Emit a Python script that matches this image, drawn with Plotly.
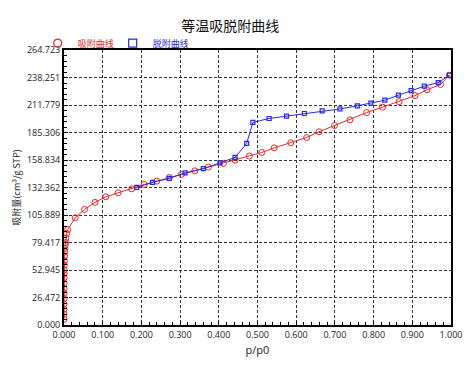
import plotly.graph_objects as go

title_text = "等温吸脱附曲线"
ads_name = "吸附曲线"
des_name = "脱附曲线"
x_title = "p/p0"
y_title = "吸附量(cm³/g STP)"

x_ticks = [0.0, 0.1, 0.2, 0.3, 0.4, 0.5, 0.6, 0.7, 0.8, 0.9, 1.0]
x_ticklabels = ["0.000", "0.100", "0.200", "0.300", "0.400", "0.500",
                "0.600", "0.700", "0.800", "0.900", "1.000"]
y_ticks = [0.0, 26.472, 52.945, 79.417, 105.889, 132.362, 158.834,
           185.306, 211.779, 238.251, 264.723]
y_ticklabels = ["0.000", "26.472", "52.945", "79.417", "105.889", "132.362",
                "158.834", "185.306", "211.779", "238.251", "264.723"]

ads_x = [0.00001, 0.00002, 0.00004, 0.00006, 0.0001, 0.00015, 0.0002, 0.0003,
         0.0004, 0.0005, 0.0007, 0.0009, 0.0012, 0.0015, 0.0019, 0.0024, 0.003,
         0.004, 0.005, 0.007, 0.0095, 0.029, 0.053, 0.080, 0.108, 0.140, 0.175,
         0.207, 0.240, 0.272, 0.304, 0.338, 0.373, 0.412, 0.442, 0.479, 0.511,
         0.543, 0.586, 0.627, 0.659, 0.699, 0.739, 0.782, 0.823, 0.866, 0.907,
         0.938, 0.973, 0.996]
ads_y = [5.5, 10.6, 15.1, 20.2, 25.3, 30.5, 34.9, 40.1, 45.5, 49.7, 52.9,
         57.7, 61.9, 66.4, 70.5, 73.8, 77.0, 79.5, 83.4, 88.2, 91.8, 103.2,
         111.3, 118.0, 123.4, 127.3, 131.1, 135.3, 138.5, 142.0, 145.0, 148.4,
         152.0, 155.5, 158.7, 162.6, 166.1, 170.5, 175.4, 180.5, 186.0, 192.0,
         197.5, 204.5, 209.7, 215.0, 220.8, 226.5, 231.5, 240.5]

des_x = [0.188, 0.229, 0.272, 0.313, 0.360, 0.403, 0.442, 0.472, 0.488, 0.530,
         0.575, 0.621, 0.667, 0.713, 0.758, 0.793, 0.829, 0.864, 0.897, 0.931,
         0.967, 0.996]
des_y = [132.5, 137.3, 141.2, 146.5, 150.5, 156.1, 161.3, 174.8, 195.0, 198.8,
         201.0, 203.6, 206.1, 208.0, 211.0, 213.5, 216.4, 221.2, 225.7, 229.9,
         233.4, 240.5]

RED = "rgb(232,40,40)"
BLUE = "rgb(40,40,225)"
FONT = "Noto Sans CJK SC, Noto Sans, sans-serif"
NUMFONT = "Open Sans, Noto Sans, sans-serif"

fig = go.Figure()
fig.add_trace(go.Scatter(
    x=ads_x, y=ads_y, mode="lines+markers", showlegend=False,
    line=dict(color=RED, width=1),
    marker=dict(symbol="circle-open", size=6, color=RED, line=dict(width=1, color=RED)),
))
fig.add_trace(go.Scatter(
    x=des_x, y=des_y, mode="lines+markers", showlegend=False,
    line=dict(color=BLUE, width=1),
    marker=dict(symbol="square-open", size=4, color=BLUE, line=dict(width=1.2, color=BLUE)),
))
# legend-only entries (marker only, no data)
fig.add_trace(go.Scatter(
    x=[None], y=[None], mode="markers",
    name=f"<span style='color:{RED}'>{ads_name}</span>",
    marker=dict(symbol="circle-open", size=8, color=RED, line=dict(width=1.2, color=RED)),
))
fig.add_trace(go.Scatter(
    x=[None], y=[None], mode="markers",
    name=f"<span style='color:{BLUE}'>{des_name}</span>",
    marker=dict(symbol="square-open", size=8, color=BLUE, line=dict(width=1.2, color=BLUE)),
))

axis_common = dict(
    showline=True, linewidth=2, linecolor="black", mirror=True,
    showgrid=True, gridcolor="#333", griddash="3px,2px", gridwidth=1.3,
    ticks="inside", ticklen=4, tickcolor="black", tickwidth=1,
    tickfont=dict(family=NUMFONT, size=9, color="#222"),
    zeroline=False, automargin=False,
)

fig.update_xaxes(
    range=[0, 1], tickvals=x_ticks, ticktext=x_ticklabels,
    minor=dict(ticks="inside", ticklen=3, tickcolor="black", dtick=0.02, showgrid=False),
    title=dict(text=x_title, font=dict(family=NUMFONT, size=11, color="#222"), standoff=7),
    **axis_common,
)
fig.update_yaxes(
    range=[0, 264.723], tickvals=y_ticks, ticktext=y_ticklabels,
    minor=dict(ticks="inside", ticklen=3, tickcolor="black", dtick=26.4723 / 5, tick0=0,
               showgrid=False),
    title=dict(text=y_title, font=dict(family=FONT, size=9, color="#222"), standoff=5),
    **axis_common,
)

# page has an 8px body margin, so the figure is sized/offset to compensate
fig.update_layout(
    width=463, height=357,
    margin=dict(l=56, r=20, t=42, b=40),
    paper_bgcolor="white", plot_bgcolor="white",
    title=dict(text=title_text, x=0.48, xanchor="center", y=0.962, yanchor="top",
               font=dict(family=FONT, size=14, color="#111")),
    legend=dict(orientation="h", x=-0.068, xanchor="left", y=1.025, yanchor="middle",
                font=dict(family=FONT, size=9), itemwidth=30,
                entrywidth=30, entrywidthmode="pixels",
                bgcolor="rgba(0,0,0,0)", borderwidth=0, tracegroupgap=0),
)

fig.write_html("out.html")
